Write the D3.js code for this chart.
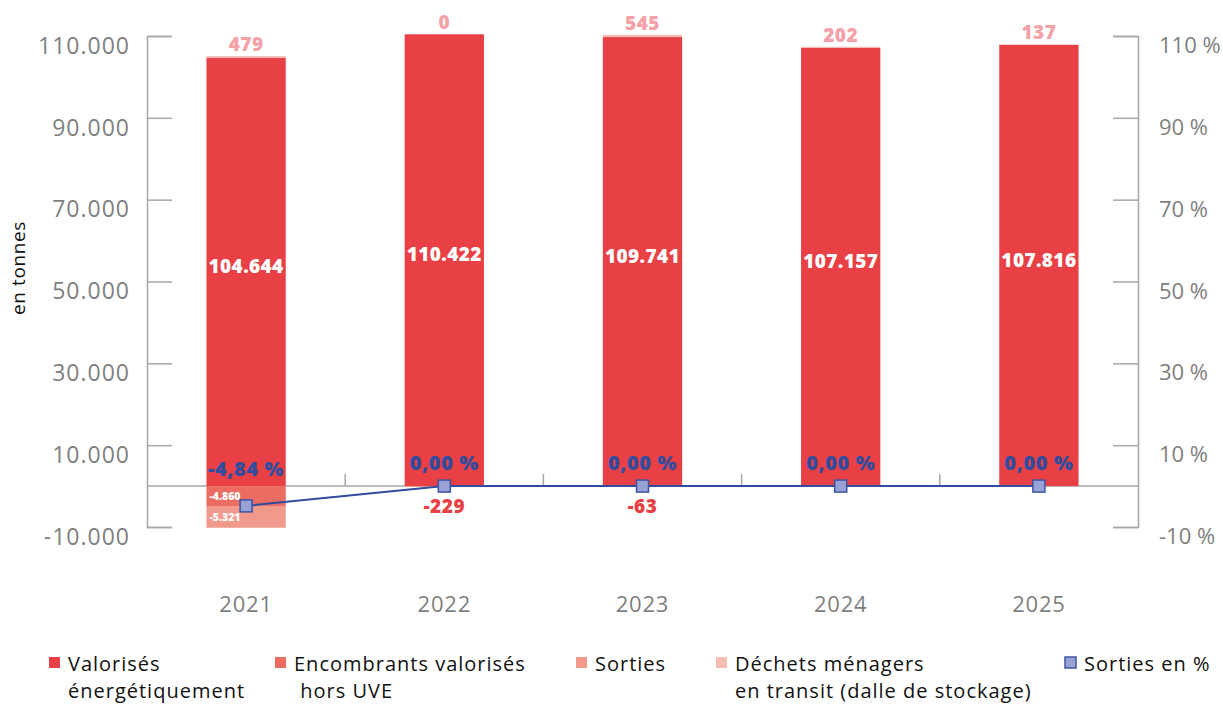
<!DOCTYPE html>
<html>
<head>
<meta charset="utf-8">
<script src="https://cdn.jsdelivr.net/npm/d3@7"></script>
<style>
  html, body { margin: 0; padding: 0; background: #fff; }
  svg { display: block; font-family: "Open Sans", "Noto Sans", sans-serif; }
</style>
</head>
<body>
<svg id="chart" width="1223" height="704"></svg>
<script>
// Tonnages par année (valeurs négatives = déductions)
const years = ["2021", "2022", "2023", "2024", "2025"];
const valorises = [104644, 110422, 109741, 107157, 107816];
const encombrants = [-4860, 0, 0, 0, 0];
const sorties = [-5321, -229, -63, 0, 0];
const dechetsTransit = [479, 0, 545, 202, 137];
const sortiesPct = [-4.84, 0, 0, 0, 0];

const leftTicks = [-10000, 10000, 30000, 50000, 70000, 90000, 110000];
const rightTicks = [-10, 10, 30, 50, 70, 90, 110];

const seriesKeys = ["valorises", "encombrants", "sorties", "dechets"];
const seriesNames = {
  valorises: ["Valorisés", "énergétiquement"],
  encombrants: ["Encombrants valorisés", " hors UVE"],
  sorties: ["Sorties"],
  dechets: ["Déchets ménagers", "en transit (dalle de stockage)"],
  pct: ["Sorties en %"]
};
const colors = {
  valorises: "#e84045",
  encombrants: "#ec6c62",
  sorties: "#f19a8b",
  dechets: "#f7bcb2"
};

const rows = years.map((y, i) => ({
  year: y,
  valorises: valorises[i],
  encombrants: encombrants[i],
  sorties: sorties[i],
  dechets: dechetsTransit[i],
  pct: sortiesPct[i]
}));

const fr = d3.formatLocale({ decimal: ",", thousands: ".", grouping: [3], currency: ["", " €"], minus: "-" });
const fmtT = fr.format(",.0f");
const fmtP = fr.format(".2f");

const svg = d3.select("#chart");
const plot = { left: 147, right: 1138, top: 36, bottom: 527 };

const x = d3.scaleBand().domain(years).range([plot.left, plot.right])
  .paddingInner(0.6).paddingOuter(0.3);
const y = d3.scaleLinear().domain([-10000, 110000]).range([plot.bottom, plot.top]);
const y2 = d3.scaleLinear().domain([-10, 110]).range([plot.bottom, plot.top]);

const axisGrey = "#a6a6a6";
const labelGrey = "#7f7f7f";

// Axe gauche
const gL = svg.append("g").attr("transform", `translate(${plot.left},0)`)
  .call(d3.axisLeft(y).tickValues(leftTicks).tickFormat(fmtT).tickSize(-25).tickPadding(17));
// Axe droit
const gR = svg.append("g").attr("transform", `translate(${plot.right},0)`)
  .call(d3.axisRight(y2).tickValues(rightTicks).tickFormat(d => d + " %").tickSize(-25).tickPadding(21));

[gL, gR].forEach(g => {
  g.select(".domain").attr("stroke", axisGrey).attr("stroke-width", 1.5);
  g.selectAll(".tick line").attr("stroke", axisGrey).attr("stroke-width", 1.5);
  g.selectAll(".tick text").attr("fill", labelGrey).attr("font-size", 22).attr("dy", "0.75em")
    .attr("font-family", "'Open Sans', sans-serif");
});
gL.selectAll(".tick text").attr("font-size", 23).attr("letter-spacing", 1);

// Ligne du zéro et repères entre catégories
svg.append("line")
  .attr("x1", plot.left).attr("x2", plot.right)
  .attr("y1", y(0)).attr("y2", y(0))
  .attr("stroke", axisGrey).attr("stroke-width", 1.5);
const gap = (x.step() - x.bandwidth()) / 2;
svg.append("g").selectAll("line")
  .data(years.slice(1))
  .join("line")
  .attr("x1", d => x(d) - gap)
  .attr("x2", d => x(d) - gap)
  .attr("y1", y(0)).attr("y2", y(0) - 12)
  .attr("stroke", axisGrey).attr("stroke-width", 1.5);

// Barres empilées
const stack = d3.stack().keys(seriesKeys).offset(d3.stackOffsetDiverging);
const layers = stack(rows);

svg.append("g").selectAll("g")
  .data(layers)
  .join("g")
  .attr("fill", d => colors[d.key])
  .selectAll("rect")
  .data(d => d.map(s => ({ s, key: d.key })))
  .join("rect")
  .attr("x", d => x(d.s.data.year))
  .attr("width", x.bandwidth())
  .attr("y", d => y(Math.max(d.s[0], d.s[1])))
  .attr("height", d => Math.abs(y(d.s[0]) - y(d.s[1])));

const byKey = Object.fromEntries(layers.map(l => [l.key, l]));
// Sommet positif de chaque pile
const posTop = rows.map(r => seriesKeys.reduce((s, k) => s + Math.max(r[k], 0), 0));

// Étiquettes des valeurs valorisées
svg.append("g").selectAll("text")
  .data(byKey.valorises)
  .join("text")
  .attr("x", d => x(d.data.year) + x.bandwidth() / 2)
  .attr("y", d => (y(d[0]) + y(d[1])) / 2 - 6)
  .attr("text-anchor", "middle").attr("dominant-baseline", "central")
  .attr("fill", "#fff").attr("font-weight", 800).attr("font-size", 19).attr("letter-spacing", 0.4)
  .text(d => fmtT(d.data.valorises));

// Étiquettes des déchets en transit (au-dessus de la pile)
svg.append("g").selectAll("text")
  .data(rows)
  .join("text")
  .attr("x", d => x(d.year) + x.bandwidth() / 2)
  .attr("y", (d, i) => y(posTop[i]) - 12)
  .attr("text-anchor", "middle").attr("dominant-baseline", "central")
  .attr("fill", "#f4a1a8").attr("font-weight", 800).attr("font-size", 19).attr("letter-spacing", 0.5)
  .text(d => fmtT(d.dechets));

// Étiquettes des valeurs négatives
["encombrants", "sorties"].forEach(key => {
  const pts = byKey[key].filter(d => d.data[key] !== 0);
  svg.append("g").selectAll("text")
    .data(pts)
    .join("text")
    .each(function (d) {
      const h = Math.abs(y(d[0]) - y(d[1]));
      const t = d3.select(this).text(fmtT(d.data[key])).attr("font-weight", 800);
      if (h > 12) {
        t.attr("x", x(d.data.year) + 3)
          .attr("y", (y(d[0]) + y(d[1])) / 2)
          .attr("dominant-baseline", "central")
          .attr("fill", "#fff").attr("font-size", 10.5);
      } else {
        t.attr("x", x(d.data.year) + x.bandwidth() / 2)
          .attr("y", y(d[1]) + 20)
          .attr("text-anchor", "middle").attr("dominant-baseline", "central")
          .attr("fill", colors.valorises).attr("font-size", 19).attr("letter-spacing", 0.6);
      }
    });
});

// Courbe des sorties en %
const cx = d => x(d.year) + x.bandwidth() / 2;
svg.append("path")
  .datum(rows)
  .attr("fill", "none").attr("stroke", "#2f4c9f").attr("stroke-width", 2)
  .attr("d", d3.line().x(cx).y(d => y2(d.pct)));

svg.append("g").selectAll("rect")
  .data(rows)
  .join("rect")
  .attr("x", d => cx(d) - 6).attr("y", d => y2(d.pct) - 6)
  .attr("width", 12).attr("height", 12)
  .attr("fill", "#98a2d4").attr("stroke", "#3d55a6").attr("stroke-width", 1.5);

svg.append("g").selectAll("text")
  .data(rows)
  .join("text")
  .attr("x", cx)
  .attr("y", d => y2(Math.max(d.pct, 0)) - (d.pct < 0 ? 18 : 24))
  .attr("text-anchor", "middle").attr("dominant-baseline", "central")
  .attr("fill", "#2f4c9f").attr("font-weight", 800).attr("font-size", 20).attr("letter-spacing", 0.6)
  .text(d => fmtP(d.pct) + " %");

// Années
svg.append("g").selectAll("text")
  .data(years)
  .join("text")
  .attr("x", d => x(d) + x.bandwidth() / 2)
  .attr("y", 603)
  .attr("text-anchor", "middle").attr("dominant-baseline", "central")
  .attr("fill", labelGrey).attr("font-size", 22).attr("letter-spacing", 0.8)
  .text(d => d);

// Titre de l'axe
svg.append("text")
  .attr("transform", "translate(18,268) rotate(-90)")
  .attr("text-anchor", "middle").attr("dominant-baseline", "central")
  .attr("fill", "#111").attr("font-size", 19).attr("letter-spacing", 0.6)
  .text("en tonnes");

// Légende
const legendItems = [
  { key: "valorises", x: 49 },
  { key: "encombrants", x: 275 },
  { key: "sorties", x: 576 },
  { key: "dechets", x: 716 },
  { key: "pct", x: 1065 }
];
const lg = svg.append("g").selectAll("g")
  .data(legendItems)
  .join("g")
  .attr("transform", d => `translate(${d.x},663)`);
lg.append("rect")
  .attr("x", 0).attr("y", -6).attr("width", 11).attr("height", 11)
  .attr("fill", d => d.key === "pct" ? "#98a2d4" : colors[d.key])
  .attr("stroke", d => d.key === "pct" ? "#3d55a6" : "none")
  .attr("stroke-width", 1.5);
lg.append("text")
  .attr("x", 19)
  .attr("fill", "#111").attr("font-size", 20).attr("letter-spacing", 1)
  .attr("xml:space", "preserve")
  .style("white-space", "pre")
  .selectAll("tspan")
  .data(d => seriesNames[d.key])
  .join("tspan")
  .attr("x", 19)
  .attr("y", (d, i) => i * 27)
  .attr("dominant-baseline", "central")
  .text(d => d);
</script>
</body>
</html>
